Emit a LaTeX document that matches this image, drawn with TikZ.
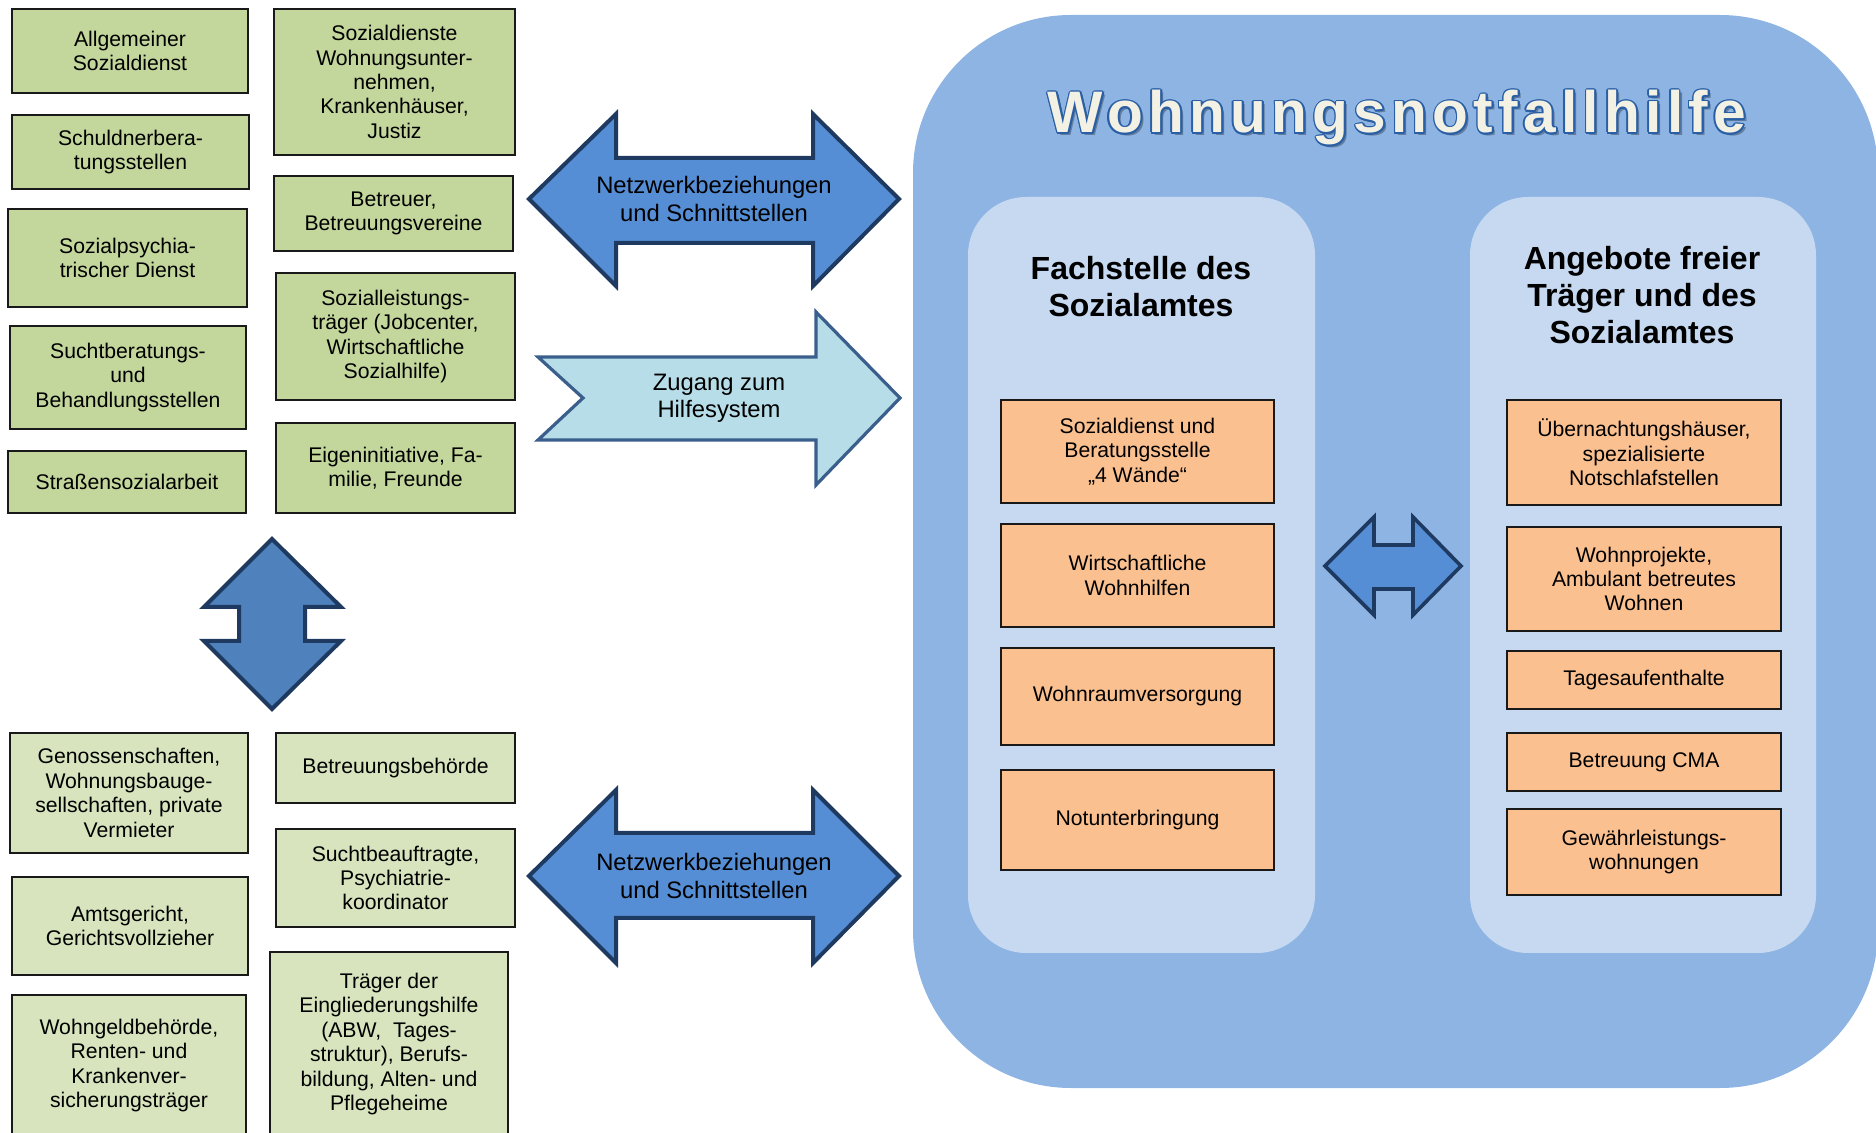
\documentclass[tikz,border=0pt]{standalone}
\usepackage{fontspec}
\setmainfont{Liberation Sans}
\newfontfamily\ttlfont{Liberation Sans}[LetterSpace=9]
\usetikzlibrary{fit,calc}
\definecolor{gA}{HTML}{C3D69B}
\definecolor{gB}{HTML}{D7E4BD}
\definecolor{orng}{HTML}{FAC090}
\definecolor{mainbl}{HTML}{8EB4E3}
\definecolor{panelbl}{HTML}{C6D9F1}
\definecolor{arrbl}{HTML}{558ED5}
\definecolor{arrdk}{HTML}{1F3A60}
\definecolor{udbl}{HTML}{4F81BD}
\definecolor{zgfill}{HTML}{B7DEE8}
\definecolor{zgdraw}{HTML}{3A5F8C}
\definecolor{ttlfill}{HTML}{F3F1E4}
\definecolor{ttlline}{HTML}{2A5FA5}
\tikzset{
  boxbase/.style={draw=black!90, line width=1pt, inner sep=0pt, align=center,
    font=\fontsize{10.6}{12.2}\selectfont},
  greenA/.style={boxbase, fill=gA},
  greenB/.style={boxbase, fill=gB},
  orangebox/.style={boxbase, fill=orng},
  mainbox/.style={fill=mainbl, inner sep=0pt, rounded corners=79pt},
  panel/.style={fill=panelbl, inner sep=0pt, rounded corners=29pt},
  arrtext/.style={align=center, inner sep=0pt, font=\fontsize{11.9}{13.7}\selectfont},
  ptitle/.style={align=center, inner sep=0pt, font=\bfseries\fontsize{16}{18.5}\selectfont},
  ttl/.style={anchor=base, inner sep=0pt, font=\ttlfont\bfseries\fontsize{29.3}{32}\selectfont},
  dblarrow/.style={fill=arrbl, draw=arrdk, line width=2pt, line join=miter},
  udarrow/.style={fill=udbl, draw=arrdk, line width=2pt, line join=miter},
  zgarrow/.style={fill=zgfill, draw=zgdraw, line width=1.6pt, line join=miter},
}
% box: style, name, x1, y1, x2, y2, text
\newcommand\mkbx[7]{%
  \node[#1, minimum width={(#5-#3)*0.5pt}, minimum height={(#6-#4)*0.5pt}]
    (#2) at ({(#3+#5)/2},{(#4+#6)/2}) {#7};}
\begin{document}
\begin{tikzpicture}[x=0.5pt,y=-0.5pt]
\useasboundingbox (0,0) rectangle (1876,1133);
\clip (0,0) rectangle (1876,1133);
% main container
\mkbx{mainbox}{main}{913}{15}{1878}{1088}{}
\mkbx{panel}{lpanel}{968}{197}{1315}{953}{}
\mkbx{panel}{rpanel}{1470}{197}{1816}{953}{}
% title
\node[ttl, text=black, opacity=0.3] (ttlsh) at (1400,136) {Wohnungsnotfallhilfe};
\foreach \a in {0,30,...,330}{
  \node[ttl, text=ttlline] (tto\a) at ($(1397,133)+(\a:1.7)$) {Wohnungsnotfallhilfe};
}
\node[ttl, text=ttlfill] (title) at (1397,133) {Wohnungsnotfallhilfe};
% panel titles
\node[ptitle] (ftitle) at (1141,287) {Fachstelle des\\Sozialamtes};
\node[ptitle] (atitle) at (1642,295) {Angebote freier\\Träger und des\\Sozialamtes};
% orange boxes
\mkbx{orangebox}{o1}{1001}{400}{1274}{503}{Sozialdienst und\\Beratungsstelle\\„4 Wände“}
\mkbx{orangebox}{o2}{1001}{524}{1274}{627}{Wirtschaftliche\\Wohnhilfen}
\mkbx{orangebox}{o3}{1001}{648}{1274}{745}{Wohnraumversorgung}
\mkbx{orangebox}{o4}{1001}{770}{1274}{870}{Notunterbringung}
\mkbx{orangebox}{p1}{1507}{400}{1781}{505}{Übernachtungshäuser,\\spezialisierte\\Notschlafstellen}
\mkbx{orangebox}{p2}{1507}{527}{1781}{631}{Wohnprojekte,\\Ambulant betreutes\\Wohnen}
\mkbx{orangebox}{p3}{1507}{651}{1781}{709}{Tagesaufenthalte}
\mkbx{orangebox}{p4}{1507}{733}{1781}{791}{Betreuung CMA}
\mkbx{orangebox}{p5}{1507}{809}{1781}{895}{Gewährleistungs-\\wohnungen}
% middle double arrow
\draw[dblarrow, line width=1.8pt] (1325,566) -- (1374,517) -- (1374,545) -- (1413,545) -- (1413,517)
  -- (1461,566) -- (1413,615) -- (1413,589) -- (1374,589) -- (1374,615) -- cycle;
% left green boxes (top)
\mkbx{greenA}{a1}{12}{9}{248}{93}{Allgemeiner\\Sozialdienst}
\mkbx{greenA}{a2}{12}{115}{249}{189}{Schuldnerbera-\\tungsstellen}
\mkbx{greenA}{a3}{8}{209}{247}{307}{Sozialpsychia-\\trischer Dienst}
\mkbx{greenA}{a4}{10}{326}{246}{429}{Suchtberatungs-\\und\\Behandlungsstellen}
\mkbx{greenA}{a5}{8}{451}{246}{513}{Straßensozialarbeit}
\mkbx{greenA}{b1}{274}{9}{515}{155}{Sozialdienste\\Wohnungsunter-\\nehmen,\\Krankenhäuser,\\Justiz}
\mkbx{greenA}{b2}{274}{176}{513}{251}{Betreuer,\\Betreuungsvereine}
\mkbx{greenA}{b3}{276}{273}{515}{400}{Sozialleistungs-\\träger (Jobcenter,\\Wirtschaftliche\\Sozialhilfe)}
\mkbx{greenA}{b4}{276}{423}{515}{513}{Eigeninitiative, Fa-\\milie, Freunde}
% left green boxes (bottom)
\mkbx{greenB}{c1}{10}{733}{248}{853}{Genossenschaften,\\Wohnungsbauge-\\sellschaften, private\\Vermieter}
\mkbx{greenB}{c2}{12}{877}{248}{975}{Amtsgericht,\\Gerichtsvollzieher}
\mkbx{greenB}{c3}{12}{995}{246}{1136}{Wohngeldbehörde,\\Renten- und\\Krankenver-\\sicherungsträger}
\mkbx{greenB}{d1}{276}{733}{515}{803}{Betreuungsbehörde}
\mkbx{greenB}{d2}{276}{829}{515}{927}{Suchtbeauftragte,\\Psychiatrie-\\koordinator}
\mkbx{greenB}{d3}{270}{952}{508}{1136}{Träger der\\Eingliederungshilfe\\(ABW,\ \ Tages-\\struktur), Berufs-\\bildung, Alten- und\\Pflegeheime}
% up-down arrow
\draw[udarrow] (272,539) -- (341,607) -- (305,607) -- (305,641) -- (341,641) -- (272,709)
  -- (204,641) -- (239,641) -- (239,607) -- (204,607) -- cycle;
% top double arrow
\draw[dblarrow] (529,199) -- (616,114) -- (616,158) -- (813,158) -- (813,114) -- (899,199)
  -- (813,286) -- (813,243) -- (616,243) -- (616,286) -- cycle;
\node[arrtext] (nw1) at (714,199) {Netzwerkbeziehungen\\und Schnittstellen};
% Zugang arrow
\draw[zgarrow] (538,357) -- (816,357) -- (816,312) -- (900,398) -- (816,485) -- (816,440)
  -- (538,440) -- (583,398) -- cycle;
\node[arrtext] (zg) at (719,398) {Zugang zum\\Hilfesystem};
% bottom double arrow
\draw[dblarrow] (529,876) -- (616,790) -- (616,833) -- (813,833) -- (813,790) -- (899,876)
  -- (813,963) -- (813,918) -- (616,918) -- (616,963) -- cycle;
\node[arrtext] (nw2) at (714,876) {Netzwerkbeziehungen\\und Schnittstellen};
\end{tikzpicture}
\end{document}
